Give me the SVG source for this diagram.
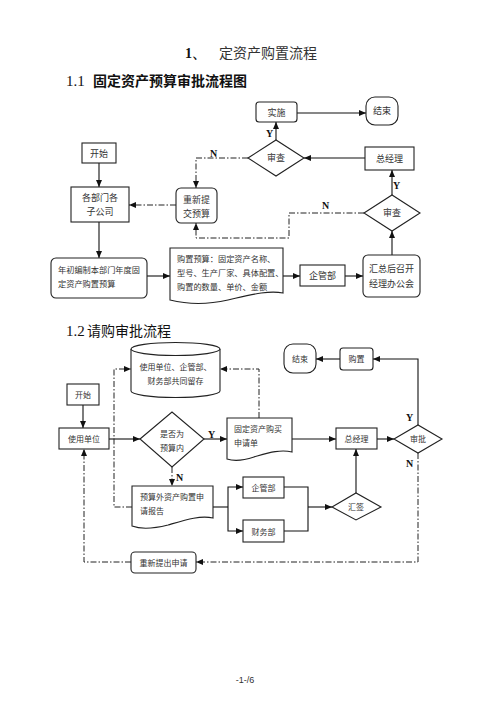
<svg xmlns="http://www.w3.org/2000/svg" width="503" height="711" viewBox="0 0 503 711">
<defs>
<marker id="ah" markerUnits="userSpaceOnUse" markerWidth="7" markerHeight="6" refX="7" refY="3" orient="auto"><path d="M0,0 L7,3 L0,6 z" fill="#111"/></marker>
<style>
.b{fill:#fff;stroke:#222;stroke-width:1.1}
.t{font-family:"Liberation Serif","Noto Sans CJK SC",serif;font-size:9px;fill:#333;text-anchor:middle}
.t2{font-family:"Liberation Serif","Noto Sans CJK SC",serif;font-size:8px;fill:#333;text-anchor:middle}
.l{text-anchor:start}
.sm{font-size:8.2px}
.yn{font-family:"Liberation Serif",serif;font-size:10px;font-weight:bold;fill:#111}
.s{fill:none;stroke:#111;stroke-width:1.1}
.d{fill:none;stroke:#222;stroke-width:1;stroke-dasharray:6 2 1.5 2}
.a{marker-end:url(#ah)}
</style>
</defs>
<rect width="503" height="711" fill="#fff"/>
<text x="185" y="58" font-family="Liberation Serif,serif" font-size="14" font-weight="bold" fill="#111">1、</text>
<text x="219" y="58" font-family="Liberation Serif,'Noto Sans CJK SC',serif" font-size="14" fill="#333">定资产购置流程</text>
<text x="66" y="86" font-size="15" fill="#111"><tspan font-family="Liberation Serif,serif">1.1</tspan><tspan x="93" font-family="'Noto Sans CJK SC',sans-serif" font-weight="bold" font-size="14">固定资产预算审批流程图</tspan></text>
<text x="66" y="336" font-size="15" fill="#111"><tspan font-family="Liberation Serif,serif">1.2</tspan><tspan x="87" font-family="'Noto Sans CJK SC',sans-serif" font-size="14">请购审批流程</tspan></text>

<g id="connectors">
<line class="s a" x1="99" y1="163" x2="99" y2="187"/>
<line class="s a" x1="99" y1="222" x2="99" y2="258"/>
<line class="s a" x1="147" y1="276" x2="170" y2="276"/>
<line class="s a" x1="283" y1="276" x2="300" y2="276"/>
<line class="s a" x1="345" y1="276" x2="363" y2="276"/>
<line class="s a" x1="392" y1="255" x2="392" y2="231"/>
<line class="s a" x1="392" y1="195" x2="392" y2="170"/>
<line class="s a" x1="365" y1="158" x2="304" y2="158"/>
<line class="s a" x1="276" y1="140" x2="276" y2="122"/>
<line class="s a" x1="297" y1="113" x2="366" y2="113"/>
<polyline class="d a" points="248,158 196,158 196,188"/>
<line class="d a" x1="176" y1="205" x2="129" y2="205"/>
<polyline class="d a" points="364,213 289,213 289,238 196,238 196,223"/>

<line class="s a" x1="83" y1="405" x2="83" y2="428"/>
<line class="s a" x1="109" y1="439" x2="140" y2="439"/>
<line class="s a" x1="204" y1="439" x2="227" y2="439"/>
<polyline class="d a" points="259,418 259,369 220,369"/>
<line class="s a" x1="292" y1="439" x2="336" y2="439"/>
<line class="s a" x1="377" y1="439" x2="394" y2="439"/>
<polyline class="s a" points="418,425 418,359 373,359"/>
<line class="s a" x1="340" y1="359" x2="316" y2="359"/>
<polyline class="d a" points="418,453 418,562 196,562"/>
<polyline class="d a" points="131,562 84,562 84,449"/>
<line class="d a" x1="172" y1="467" x2="172" y2="486"/>
<polyline class="d a" points="132,507 114,507 114,369 131,369"/>
<polyline class="s" points="213,507 228,507"/>
<polyline class="s a" points="228,507 228,487 243,487"/>
<polyline class="s a" points="228,507 228,531 243,531"/>
<polyline class="s" points="284,487 308,487 308,531 284,531"/>
<line class="s a" x1="308" y1="507" x2="332" y2="507"/>
<line class="s a" x1="356" y1="493" x2="356" y2="449"/>
</g>

<g id="labels">
<text class="yn" x="266" y="137">Y</text>
<text class="yn" x="393" y="189">Y</text>
<text class="yn" x="210" y="157">N</text>
<text class="yn" x="322" y="209">N</text>
<text class="yn" x="208" y="438">Y</text>
<text class="yn" x="176" y="481">N</text>
<text class="yn" x="406" y="421">Y</text>
<text class="yn" x="406" y="467">N</text>
</g>

<g id="n1-start"><rect class="b" x="82" y="143" width="34" height="20"/><text class="t" x="99" y="157">开始</text></g>
<g id="n1-dept"><rect class="b" x="71" y="187" width="58" height="35"/><text class="t" x="100" y="201">各部门各</text><text class="t" x="100" y="215">子公司</text></g>
<g id="n1-plan"><rect class="b" x="51" y="258" width="96" height="40" rx="5"/><text class="t l sm" x="58" y="273">年初编制本部门年度固</text><text class="t l sm" x="58" y="287">定资产购置预算</text></g>
<g id="n1-doc"><path class="b" d="M170,248 H283 V293 C268,290 250,295 228,300 C206,305 186,304 170,300 Z"/><text class="t l sm" x="177" y="262">购置预算：固定资产名称、</text><text class="t l sm" x="177" y="276">型号、生产厂家、具体配置、</text><text class="t l sm" x="177" y="290">购置的数量、单价、金额</text></g>
<g id="n1-qgb"><rect class="b" x="300" y="265" width="45" height="21"/><text class="t" x="322.5" y="279">企管部</text></g>
<g id="n1-meet"><rect class="b" x="363" y="255" width="57" height="42" rx="5"/><text class="t" x="391.5" y="272">汇总后召开</text><text class="t" x="391.5" y="287">经理办公会</text></g>
<g id="n1-check2"><polygon class="b" points="364,213 392,195 420,213 392,231"/><text class="t" x="392" y="216">审查</text></g>
<g id="n1-gm"><rect class="b" x="365" y="147" width="49" height="23"/><text class="t" x="389.5" y="162">总经理</text></g>
<g id="n1-check1"><polygon class="b" points="248,158 276,140 304,158 276,176"/><text class="t" x="276" y="161">审查</text></g>
<g id="n1-impl"><rect class="b" x="256" y="102" width="41" height="20" rx="3"/><text class="t" x="276.5" y="116">实施</text></g>
<g id="n1-end"><rect class="b" x="366" y="97" width="32" height="28" rx="9"/><text class="t" x="382" y="114">结束</text></g>
<g id="n1-resubmit"><rect class="b" x="176" y="188" width="41" height="35" rx="5"/><text class="t" x="196.5" y="203">重新提</text><text class="t" x="196.5" y="217">交预算</text></g>

<g id="n2-store"><path class="b" d="M131,349 V391 A44.5,6.5 0 0 0 220,391 V349"/><ellipse class="b" cx="175.5" cy="349" rx="44.5" ry="6.5"/><text class="t2" x="175.5" y="370">使用单位、企管部、</text><text class="t2" x="175.5" y="384">财务部共同留存</text></g>
<g id="n2-start"><rect class="b" x="67" y="384" width="32" height="21"/><text class="t2" x="83" y="398">开始</text></g>
<g id="n2-unit"><rect class="b" x="59" y="428" width="50" height="21"/><text class="t2" x="84" y="442">使用单位</text></g>
<g id="n2-inbudget"><polygon class="b" points="140,439 172,412 204,439 172,467"/><text class="t2" x="172" y="437">是否为</text><text class="t2" x="172" y="451">预算内</text></g>
<g id="n2-form"><path class="b" d="M227,418 H292 V452 C280,449 268,453 254,457 C242,461 233,461 227,459 Z"/><text class="t2 l" x="234" y="432">固定资产购买</text><text class="t2 l" x="234" y="446">申请单</text></g>
<g id="n2-gm"><rect class="b" x="336" y="428" width="41" height="21"/><text class="t2" x="356.5" y="442">总经理</text></g>
<g id="n2-approve"><polygon class="b" points="394,439 418,425 442,439 418,453"/><text class="t2" x="418" y="442">审批</text></g>
<g id="n2-buy"><rect class="b" x="340" y="348" width="33" height="22" rx="3"/><text class="t2" x="356.5" y="362">购置</text></g>
<g id="n2-end"><rect class="b" x="284" y="344" width="32" height="29" rx="9"/><text class="t2" x="300" y="362">结束</text></g>
<g id="n2-report"><path class="b" d="M132,486 H213 V518 C200,515 185,520 168,525 C152,529 140,529 132,526 Z"/><text class="t2 l" x="140" y="500">预算外资产购置申</text><text class="t2 l" x="140" y="514">请报告</text></g>
<g id="n2-qgb"><rect class="b" x="243" y="477" width="41" height="21"/><text class="t2" x="263.5" y="491">企管部</text></g>
<g id="n2-cwb"><rect class="b" x="243" y="520" width="41" height="22"/><text class="t2" x="263.5" y="535">财务部</text></g>
<g id="n2-sign"><polygon class="b" points="332,507 356,493 381,507 356,520"/><text class="t2" x="356" y="510">汇签</text></g>
<g id="n2-reapply"><rect class="b" x="131" y="552" width="65" height="21" rx="4"/><text class="t2" x="163.5" y="566">重新提出申请</text></g>

<text x="245" y="683" font-family="Liberation Sans,sans-serif" font-size="9" fill="#333" text-anchor="middle">-1-/6</text>
</svg>
